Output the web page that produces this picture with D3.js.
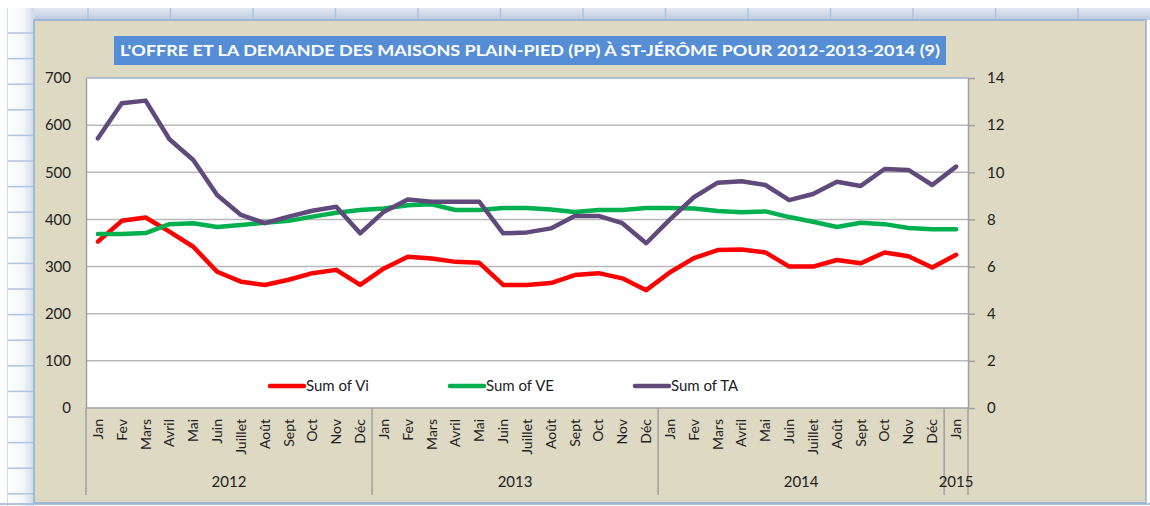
<!DOCTYPE html>
<html>
<head>
<meta charset="utf-8">
<script src="https://cdn.jsdelivr.net/npm/d3@7"></script>
<style>
  body { margin: 0; background: #fff; }
  svg { display: block; font-family: Lato, "Open Sans", sans-serif; }
</style>
</head>
<body>
<div id="chart"></div>
<script>
// data
var title = "L'OFFRE ET LA DEMANDE DES MAISONS PLAIN-PIED (PP) À ST-JÉRÔME POUR 2012-2013-2014 (9)";
var months = ["Jan","Fev","Mars","Avril","Mai","Juin","Juillet","Août","Sept","Oct","Nov","Déc",
              "Jan","Fev","Mars","Avril","Mai","Juin","Juillet","Août","Sept","Oct","Nov","Déc",
              "Jan","Fev","Mars","Avril","Mai","Juin","Juillet","Août","Sept","Oct","Nov","Déc",
              "Jan"];
var years = [{name: "2012", from: 0, to: 12}, {name: "2013", from: 12, to: 24},
             {name: "2014", from: 24, to: 36}, {name: "2015", from: 36, to: 37}];
var vi = [353,397,404,374,342,289,268,261,272,286,293,261,
          296,321,317,310,308,261,261,265,282,286,275,250,
          288,318,335,336,330,300,300,314,307,330,322,298,
          325];
var ve = [369,369,371,390,392,384,388,393,397,406,414,420,
          423,430,432,420,420,424,424,421,416,420,420,424,
          424,423,418,415,417,405,395,384,393,390,382,379,
          379];
var ta = [11.44,12.93,13.04,11.4,10.52,9.04,8.19,7.84,8.12,8.37,8.54,7.41,
          8.33,8.85,8.75,8.75,8.75,7.41,7.45,7.62,8.15,8.15,7.84,6.99,
          8.0,8.94,9.56,9.62,9.46,8.82,9.08,9.6,9.42,10.14,10.1,9.46,
          10.24];
var leftTicks = [0,100,200,300,400,500,600,700];
var rightTicks = [0,2,4,6,8,10,12,14];

var series = [
  {name: "Sum of Vi", values: vi, axis: "left", color: "#ff0000", lx: 270},
  {name: "Sum of VE", values: ve, axis: "left", color: "#00b050", lx: 450},
  {name: "Sum of TA", values: ta, axis: "right", color: "#604a7b", lx: 635}
];

var W = 1150, H = 506;
var plot = {left: 86, right: 968, top: 78, bottom: 408};

var svg = d3.select("#chart").append("svg")
    .attr("width", W)
    .attr("height", H);

// spreadsheet background behind the chart
var bgGrad = svg.append("defs").append("linearGradient")
    .attr("id", "hdr").attr("x1", 0).attr("y1", 0).attr("x2", 0).attr("y2", 1);
bgGrad.append("stop").attr("offset", 0).attr("stop-color", "#e3e9f2");
bgGrad.append("stop").attr("offset", 1).attr("stop-color", "#bccbe0");
var sideGrad = svg.select("defs").append("linearGradient")
    .attr("id", "side").attr("x1", 0).attr("y1", 0).attr("x2", 1).attr("y2", 0);
sideGrad.append("stop").attr("offset", 0).attr("stop-color", "#ffffff");
sideGrad.append("stop").attr("offset", 0.6).attr("stop-color", "#f4f6fa");
sideGrad.append("stop").attr("offset", 1).attr("stop-color", "#cfdae9");

svg.append("rect").attr("x", 7).attr("y", 8).attr("width", W - 7).attr("height", 12)
    .attr("fill", "url(#hdr)");
svg.append("rect").attr("x", 7).attr("y", 8).attr("width", 27).attr("height", H - 8)
    .attr("fill", "url(#side)");
svg.selectAll(".colline").data(d3.range(88, W, 82.5)).enter().append("line")
    .attr("x1", function(d) { return d; }).attr("x2", function(d) { return d; })
    .attr("y1", 8).attr("y2", 20)
    .attr("stroke", "#b0c4df").attr("stroke-width", 1.5);
svg.selectAll(".rowline").data(d3.range(33, H, 25.6)).enter().append("line")
    .attr("x1", 7).attr("x2", 34)
    .attr("y1", function(d) { return d; }).attr("y2", function(d) { return d; })
    .attr("stroke", "#b0c4df").attr("stroke-width", 1.5);
svg.append("line").attr("x1", 7.5).attr("x2", 7.5).attr("y1", 8).attr("y2", H)
    .attr("stroke", "#d0dbe9");
svg.append("line").attr("x1", 0).attr("x2", W).attr("y1", 504).attr("y2", 504)
    .attr("stroke", "#b0c4df").attr("stroke-width", 2);

// chart area
svg.append("rect")
    .attr("x", 34).attr("y", 20).attr("width", 1112).attr("height", 483)
    .attr("fill", "#ddd9c3")
    .attr("stroke", "#8eb0d8").attr("stroke-width", 1.5);

// title
svg.append("rect")
    .attr("x", 114).attr("y", 36).attr("width", 832).attr("height", 29)
    .attr("fill", "#558ed5");
svg.append("text")
    .attr("x", 120).attr("y", 56)
    .attr("fill", "#fff")
    .attr("font-size", 15).attr("font-weight", "bold")
    .attr("textLength", 820).attr("lengthAdjust", "spacingAndGlyphs")
    .text(title);

// scales
var x = d3.scaleBand().domain(d3.range(months.length)).range([plot.left, plot.right]);
var yL = d3.scaleLinear().domain([0, 700]).range([plot.bottom, plot.top]);
var yR = d3.scaleLinear().domain([0, 14]).range([plot.bottom, plot.top]);

svg.append("rect")
    .attr("x", plot.left).attr("y", plot.top)
    .attr("width", plot.right - plot.left).attr("height", plot.bottom - plot.top)
    .attr("fill", "#fff");

// gridlines
svg.append("g").selectAll("line").data(leftTicks.slice(1, -1)).enter().append("line")
    .attr("x1", plot.left).attr("x2", plot.right)
    .attr("y1", function(d) { return yL(d); }).attr("y2", function(d) { return yL(d); })
    .attr("stroke", "#b8b8b8").attr("stroke-width", 1.5);

svg.append("line").attr("x1", plot.left).attr("x2", plot.right)
    .attr("y1", plot.top).attr("y2", plot.top)
    .attr("stroke", "#9fb3cd").attr("stroke-width", 1.5);

// left axis
var left = svg.append("g")
    .attr("transform", "translate(" + plot.left + ",0)")
    .call(d3.axisLeft(yL).tickValues(leftTicks).tickSize(0).tickPadding(15));
left.select(".domain").attr("stroke", "#a0a0a0").attr("stroke-width", 1.5);
left.selectAll("text").attr("font-size", 15).attr("fill", "#222").attr("font-family", "Lato, sans-serif");

// right axis
var right = svg.append("g")
    .attr("transform", "translate(" + plot.right + ",0)")
    .call(d3.axisRight(yR).tickValues(rightTicks).tickSize(7).tickSizeOuter(0).tickPadding(12));
right.select(".domain").attr("stroke", "#a0a0a0").attr("stroke-width", 1.5);
right.selectAll(".tick line").attr("stroke", "#a0a0a0").attr("stroke-width", 1.5);
right.selectAll("text").attr("font-size", 15).attr("fill", "#222").attr("font-family", "Lato, sans-serif");

// x axis: baseline, month labels, year groups
svg.append("line").attr("x1", plot.left).attr("x2", plot.right)
    .attr("y1", plot.bottom).attr("y2", plot.bottom)
    .attr("stroke", "#a0a0a0").attr("stroke-width", 1.5);

svg.append("g").selectAll("text").data(months).enter().append("text")
    .attr("transform", function(d, i) {
        return "translate(" + (x(i) + x.bandwidth() / 2) + ",419) rotate(-90)";
    })
    .attr("text-anchor", "end")
    .attr("dy", "0.35em")
    .attr("font-size", 14).attr("fill", "#222")
    .text(function(d) { return d; });

var seps = [0].concat(years.map(function(d) { return d.to; }));
svg.append("g").selectAll("line").data(seps).enter().append("line")
    .attr("x1", function(d) { return x(0) + d * x.step(); })
    .attr("x2", function(d) { return x(0) + d * x.step(); })
    .attr("y1", plot.bottom).attr("y2", 495)
    .attr("stroke", "#a0a0a0").attr("stroke-width", 1.5);

svg.append("g").selectAll("text").data(years).enter().append("text")
    .attr("x", function(d) { return x(0) + (d.from + d.to) / 2 * x.step(); })
    .attr("y", 487)
    .attr("text-anchor", "middle")
    .attr("font-size", 15).attr("fill", "#222")
    .text(function(d) { return d.name; });

// series lines
var line = function(scale) {
    return d3.line()
        .x(function(d, i) { return x(i) + x.bandwidth() / 2; })
        .y(function(d) { return scale(d); });
};

series.forEach(function(s) {
    svg.append("path")
        .datum(s.values)
        .attr("fill", "none")
        .attr("stroke", s.color)
        .attr("stroke-width", 4.5)
        .attr("stroke-linejoin", "round")
        .attr("stroke-linecap", "round")
        .attr("d", line(s.axis === "left" ? yL : yR));
});

// legend
var legend = svg.append("g").selectAll("g").data(series).enter().append("g");
legend.append("line")
    .attr("x1", function(d) { return d.lx; }).attr("x2", function(d) { return d.lx + 34; })
    .attr("y1", 386).attr("y2", 386)
    .attr("stroke", function(d) { return d.color; })
    .attr("stroke-width", 4.5).attr("stroke-linecap", "round");
legend.append("text")
    .attr("x", function(d) { return d.lx + 36; })
    .attr("y", 391)
    .attr("font-size", 15).attr("fill", "#222")
    .text(function(d) { return d.name; });
</script>
</body>
</html>
